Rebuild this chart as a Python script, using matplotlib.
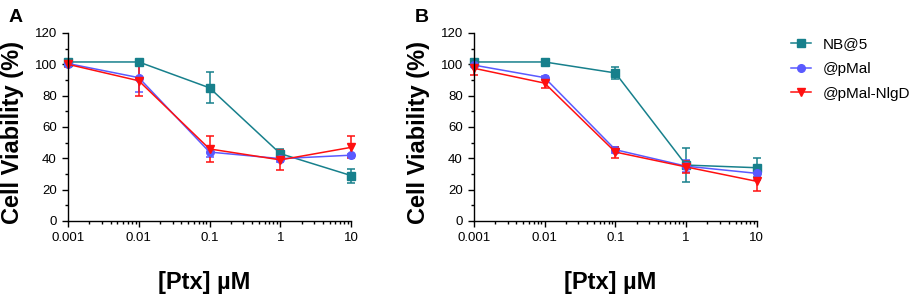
import matplotlib
matplotlib.use("Agg")
import matplotlib.pyplot as plt
from matplotlib.lines import Line2D
from matplotlib.ticker import LogLocator, FixedLocator, FixedFormatter, NullFormatter

plt.rcParams['font.family'] = ['Liberation Sans', 'DejaVu Sans']

# 농도 (uM)
conc = [0.001, 0.01, 0.1, 1, 10]
conc_labels = ["0.001", "0.01", "0.1", "1", "10"]
series_names = ["NB@5", "@pMal", "@pMal-NlgD"]

# 패널 A
a_nb5 = [101.5, 101.5, 85, 43, 29]
a_nb5_err = [1, 1, 10, 3, 4.5]
a_pmal = [100.5, 91.5, 44, 39.8, 42]
a_pmal_err = [1, 9, 3, 2, 1]
a_nlgd = [100, 89.5, 46, 39, 47]
a_nlgd_err = [2, 10, 8.5, 6.5, 7]

# 패널 B
b_nb5 = [101.5, 101.5, 94.5, 35.7, 34]
b_nb5_err = [1.5, 1, 4, 11, 6]
b_pmal = [99.5, 91.5, 45.5, 35, 30.4]
b_pmal_err = [1, 1, 2, 4, 4]
b_nlgd = [97.5, 88, 44, 34.5, 25.3]
b_nlgd_err = [4, 3, 3.5, 4, 6]

colors = ['#17808c', '#5a5aff', '#ff1010']
markers = ['s', 'o', 'v']

fig = plt.figure(figsize=(9.13, 2.98), dpi=100)
ax_a = fig.add_axes([0.0745, 0.2584, 0.310, 0.6309])
ax_b = fig.add_axes([0.519, 0.2584, 0.310, 0.6309])


def draw_panel(ax, data, errs, letter):
    for vals, err, c, m, name in zip(data, errs, colors, markers, series_names):
        ax.errorbar(conc, vals, yerr=err, color=c, marker=m, markersize=5.5,
                    linewidth=1.1, elinewidth=1.1, capsize=3, capthick=1.1,
                    label=name, clip_on=False)
    ax.set_xscale('log')
    ax.set_xlim(0.001, 10)
    ax.set_ylim(0, 120)
    ax.xaxis.set_major_locator(FixedLocator(conc))
    ax.xaxis.set_major_formatter(FixedFormatter(conc_labels))
    ax.xaxis.set_minor_locator(LogLocator(base=10, subs=range(2, 10)))
    ax.xaxis.set_minor_formatter(NullFormatter())
    ax.set_yticks(range(0, 121, 20))
    ax.set_yticks(range(10, 120, 20), minor=True)
    ax.spines['top'].set_visible(False)
    ax.spines['right'].set_visible(False)
    for s in ['left', 'bottom']:
        ax.spines[s].set_linewidth(1.0)
    ax.tick_params(which='major', direction='out', length=4, width=1.0,
                   labelsize=9.5, pad=4)
    ax.tick_params(which='minor', direction='out', length=2.5, width=1.0)
    ax.set_ylabel("Cell Viability (%)", fontsize=17, fontweight='bold')
    ax.yaxis.set_label_coords(-0.155, 0.47)
    ax.set_xlabel("[Ptx] µM", fontsize=17, fontweight='bold')
    ax.xaxis.set_label_coords(0.48, -0.265)
    ax.text(-0.21, 1.13, letter, transform=ax.transAxes, fontsize=14,
            fontweight='bold', va='top', ha='left')


draw_panel(ax_a, [a_nb5, a_pmal, a_nlgd], [a_nb5_err, a_pmal_err, a_nlgd_err], "A")
draw_panel(ax_b, [b_nb5, b_pmal, b_nlgd], [b_nb5_err, b_pmal_err, b_nlgd_err], "B")

handles = [Line2D([], [], color=c, marker=m, markersize=5.5, linewidth=1.1)
           for c, m in zip(colors, markers)]
fig.legend(handles, series_names, loc='upper left', bbox_to_anchor=(0.866, 0.875),
           frameon=False, fontsize=11, handlelength=1.35, handletextpad=0.75,
           labelspacing=0.7, borderpad=0, borderaxespad=0)

fig.savefig("out.png", dpi=100)
